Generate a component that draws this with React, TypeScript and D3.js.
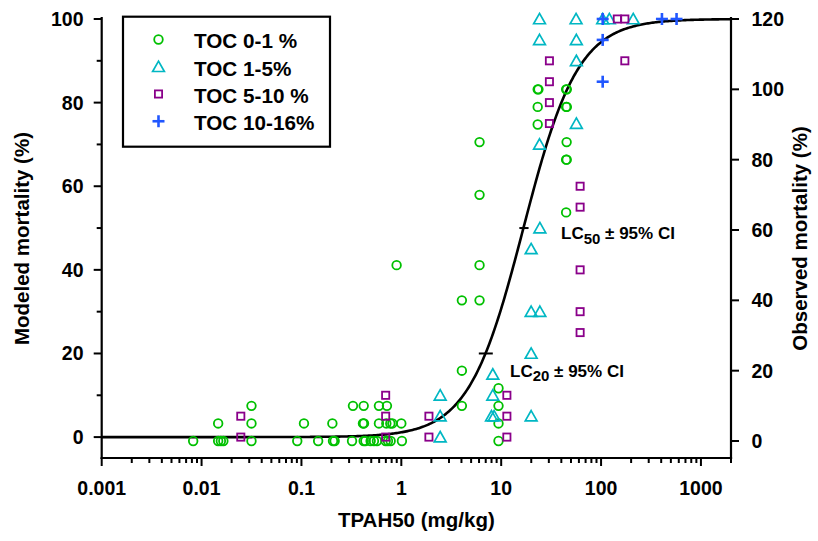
import React from 'react';
import * as d3 from 'd3';

const W = 818;
const H = 541;

// ---- axis ticks ----
const xTicks = [0.001, 0.01, 0.1, 1, 10, 100, 1000];
const xTickLabels = ['0.001', '0.01', '0.1', '1', '10', '100', '1000'];
const leftTicks = [0, 20, 40, 60, 80, 100];
const leftMinorTicks = [10, 30, 50, 70, 90];
const rightTicks = [0, 20, 40, 60, 80, 100, 120];

// ---- series (x = TPAH50 mg/kg, y = mortality %) ----
// TOC 0-1 % (plotted against the observed-mortality axis)
const toc01: [number, number][] = [
  [0.00824, 0], [0.01466, 0], [0.0156, 0], [0.01652, 0], [0.0316, 0], [0.0908, 0], [0.147, 0],
  [0.207, 0], [0.215, 0], [0.321, 0], [0.42, 0], [0.437, 0], [0.493, 0], [0.532, 0], [0.57, 0],
  [0.697, 0], [0.735, 0], [0.782, 0], [1.014, 0], [9.4, 0],
  [0.01466, 5], [0.0316, 5], [0.106, 5], [0.204, 5], [0.413, 5], [0.423, 5], [0.597, 5],
  [0.708, 5], [0.776, 5], [0.813, 5], [1.0, 5], [9.4, 5],
  [0.0316, 10], [0.328, 10], [0.42, 10], [0.597, 10], [0.718, 10], [4.04, 10], [9.4, 10],
  [9.4, 15], [4.04, 20], [4.04, 40], [6.07, 40], [0.897, 50], [6.07, 50], [44.7, 65],
  [6.07, 70], [44.7, 80], [45.3, 80], [6.07, 85], [45.2, 85], [23.2, 90],
  [23.2, 95], [44.7, 95], [45.4, 95], [23.2, 100], [23.6, 100], [44.7, 100], [45.4, 100],
];
// TOC 1-5%
const toc15: [number, number][] = [
  [2.45, 0], [2.45, 5], [2.45, 10], [8.0, 5], [8.5, 5], [8.24, 10], [8.24, 15],
  [19.95, 5], [19.95, 20], [19.95, 30], [19.95, 45], [24.4, 30], [24.4, 50], [24.2, 70],
  [24.2, 95], [24.2, 100], [56.6, 75], [56.6, 90], [56.6, 95], [56.2, 100],
  [103.8, 100], [121, 100], [210, 100],
];
// TOC 5-10 %
const toc510: [number, number][] = [
  [0.0247, 0], [0.0247, 5], [0.697, 0], [0.697, 5], [0.697, 10], [1.89, 0], [1.89, 5],
  [11.4, 0], [11.4, 5], [11.4, 10], [30.4, 75], [30.4, 80], [30.4, 85], [30.4, 90],
  [61.7, 25], [61.7, 30], [61.7, 40], [61.7, 55], [61.7, 60], [145.5, 100], [173, 100], [173, 90],
];
// TOC 10-16%
const toc1016: [number, number][] = [
  [103.8, 85], [103.8, 95], [103.8, 100], [407, 100], [570, 100],
];

const seriesNames = ['TOC 0-1 %', 'TOC 1-5%', 'TOC 5-10 %', 'TOC 10-16%'];
const seriesColors = ['#00c000', '#00b7c3', '#8a008a', '#2157ff'];

// ---- fitted model ----
const LC50 = 16.7;
const LC50_CI: [number, number] = [15.2, 18.8];
const LC20_CI: [number, number] = [5.97, 8.24];
const SLOPE = 3.65; // logit slope per log10 unit

const FONT = "'Liberation Sans', Arial, Helvetica, sans-serif";

function Marker({ kind, x, y, color }: { kind: number; x: number; y: number; color: string }) {
  if (kind === 0) return <circle cx={x} cy={y} r={4.3} fill="none" stroke={color} strokeWidth={1.8} />;
  if (kind === 1) {
    const s = 5.6;
    return (
      <path
        d={`M${x},${y - s}L${x + s * 1.05},${y + s * 0.85}L${x - s * 1.05},${y + s * 0.85}Z`}
        fill="none"
        stroke={color}
        strokeWidth={1.7}
        strokeLinejoin="miter"
      />
    );
  }
  if (kind === 2) return <rect x={x - 3.6} y={y - 3.6} width={7.2} height={7.2} fill="none" stroke={color} strokeWidth={1.8} />;
  return (
    <g stroke={color} strokeWidth={2.6}>
      <line x1={x - 6} x2={x + 6} y1={y} y2={y} />
      <line x1={x} x2={x} y1={y - 6} y2={y + 6} />
    </g>
  );
}

export default function App() {
  const left = 101.7;
  const right = 731;
  const top = 19;
  const bottom = 458;

  const x = d3.scaleLog().domain([0.001, 2000]).range([left, right]);
  const yL = d3.scaleLinear().domain([-5, 100]).range([bottom, top]);
  const yR = d3.scaleLinear().domain([-4.83, 120]).range([bottom, top]);

  const minor: number[] = [];
  for (let e = -3; e <= 3; e++) {
    for (let k = 2; k <= 9; k++) {
      const v = k * Math.pow(10, e);
      if (v <= 2000) minor.push(v);
    }
  }

  const model = (c: number) => 100 / (1 + Math.exp(-SLOPE * (Math.log10(c) - Math.log10(LC50))));
  const logMin = Math.log10(0.001);
  const logMax = Math.log10(2000);
  const samples = d3.range(0, 501).map((i) => Math.pow(10, logMin + (i / 500) * (logMax - logMin)));
  const curve = d3
    .line<number>()
    .x((c) => x(c))
    .y((c) => yL(model(c)))(samples) as string;

  const allSeries = [toc01, toc15, toc510, toc1016];
  const yFor = (si: number) => (si === 0 ? yR : yL);

  const legendY0 = 39.5;
  const legendStep = 27.25;

  return (
    <svg width={W} height={H} style={{ position: 'absolute', left: 0, top: 0, background: '#fff' }} fontFamily={FONT}>
      <rect x={0} y={0} width={W} height={H} fill="#fff" />

      {/* model curve */}
      <path d={curve} fill="none" stroke="#000" strokeWidth={2.6} />

      {/* LC markers */}
      <line x1={x(LC50_CI[0])} x2={x(LC50_CI[1])} y1={yL(50)} y2={yL(50)} stroke="#000" strokeWidth={2} />
      <line x1={x(LC20_CI[0])} x2={x(LC20_CI[1])} y1={yL(20)} y2={yL(20)} stroke="#000" strokeWidth={2} />

      {/* data points */}
      {allSeries.map((s, si) =>
        s.map((d, i) => (
          <Marker key={`${si}-${i}`} kind={si} x={x(d[0])} y={yFor(si)(d[1])} color={seriesColors[si]} />
        ))
      )}

      {/* LC labels */}
      <text x={561} y={239.3} fontSize={17} fontWeight="bold" fill="#000">
        LC<tspan fontSize={15} dy={4.8}>50</tspan>
        <tspan dy={-4.8}> ± 95% CI</tspan>
      </text>
      <text x={510} y={376.5} fontSize={17} fontWeight="bold" fill="#000">
        LC<tspan fontSize={15} dy={4.8}>20</tspan>
        <tspan dy={-4.8}> ± 95% CI</tspan>
      </text>

      {/* axes */}
      <g stroke="#000" strokeWidth={2.2} strokeLinecap="square">
        <line x1={left} x2={left} y1={top - 1} y2={bottom} />
        <line x1={right} x2={right} y1={top - 1} y2={bottom} />
        <line x1={left} x2={right} y1={bottom} y2={bottom} />
      </g>
      <g stroke="#000" strokeWidth={2}>
        {xTicks.map((t) => (
          <line key={`xt${t}`} x1={x(t)} x2={x(t)} y1={bottom} y2={bottom + 8} />
        ))}
        {minor.map((t) => (
          <line key={`xm${t}`} x1={x(t)} x2={x(t)} y1={bottom} y2={bottom + 5} />
        ))}
        {leftTicks.map((t) => (
          <line key={`lt${t}`} x1={left - 8} x2={left} y1={yL(t)} y2={yL(t)} />
        ))}
        {leftMinorTicks.map((t) => (
          <line key={`lm${t}`} x1={left - 5} x2={left} y1={yL(t)} y2={yL(t)} />
        ))}
        {rightTicks.map((t) => (
          <line key={`rt${t}`} x1={right} x2={right + 8} y1={yR(t)} y2={yR(t)} />
        ))}
      </g>

      {/* tick labels */}
      <g fontSize={19.5} fontWeight="bold" fill="#000">
        {xTicks.map((t, i) => (
          <text key={`xl${t}`} x={x(t)} y={495} textAnchor="middle">
            {xTickLabels[i]}
          </text>
        ))}
        {leftTicks.map((t) => (
          <text key={`ll${t}`} x={83.5} y={yL(t) + 7} textAnchor="end">
            {t}
          </text>
        ))}
        {rightTicks.map((t) => (
          <text key={`rl${t}`} x={751.5} y={yR(t) + 7} textAnchor="start">
            {t}
          </text>
        ))}
      </g>

      {/* axis titles */}
      <g fontSize={20.5} fontWeight="bold" fill="#000">
        <text x={(left + right) / 2} y={526.5} textAnchor="middle">
          TPAH50 (mg/kg)
        </text>
        <text transform={`translate(29,${(top + bottom) / 2}) rotate(-90)`} textAnchor="middle">
          Modeled mortality (%)
        </text>
        <text transform={`translate(806.5,${(top + bottom) / 2}) rotate(-90)`} textAnchor="middle">
          Observed mortality (%)
        </text>
      </g>

      {/* legend */}
      <rect x={123} y={16.7} width={207} height={130} fill="#fff" stroke="#000" strokeWidth={2.2} />
      {seriesNames.map((name, i) => (
        <g key={name}>
          <Marker kind={i} x={158.5} y={legendY0 + i * legendStep} color={seriesColors[i]} />
          <text x={194} y={legendY0 + i * legendStep + 8.8} fontSize={20.7} fontWeight="bold" fill="#000">
            {name}
          </text>
        </g>
      ))}
    </svg>
  );
}
